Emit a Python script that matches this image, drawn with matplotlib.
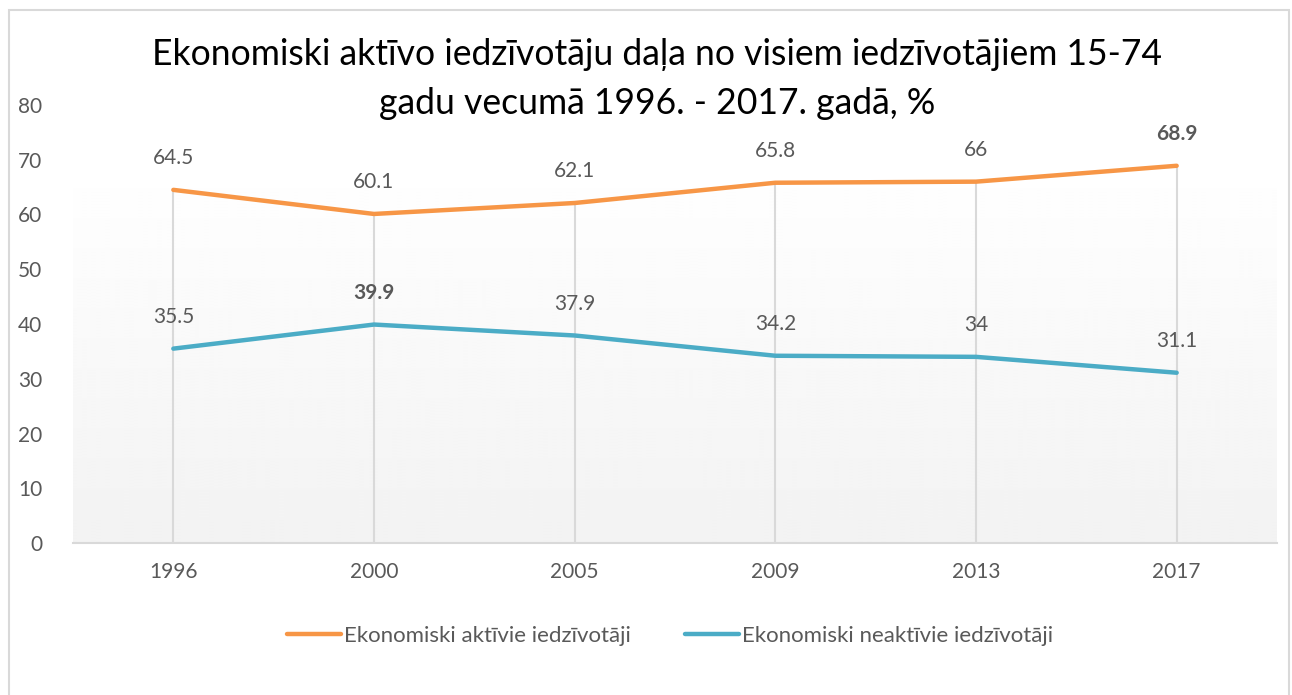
import matplotlib.pyplot as plt
import numpy as np
from matplotlib.patches import Rectangle

plt.rcParams['font.family'] = ['Lato', 'DejaVu Sans']

years = ['1996', '2000', '2005', '2009', '2013', '2017']
active = [64.5, 60.1, 62.1, 65.8, 66, 68.9]
inactive = [35.5, 39.9, 37.9, 34.2, 34, 31.1]
name_active = 'Ekonomiski aktīvie iedzīvotāji'
name_inactive = 'Ekonomiski neaktīvie iedzīvotāji'
title = 'Ekonomiski aktīvo iedzīvotāju daļa no visiem iedzīvotājiem 15-74\ngadu vecumā 1996. - 2017. gadā, %'

orange = '#F79646'
blue = '#4BACC6'
grey_txt = '#595959'
grid = '#d9d9d9'

fig = plt.figure(figsize=(12.92, 6.95), dpi=100)
ax = fig.add_axes([73 / 1292, 1 - 543 / 695, (1277 - 73) / 1292, (543 - 105) / 695])

# outer chart border
fig.patches.append(Rectangle((9 / 1292, -0.1), 1280 / 1292, 1.1 - 10 / 695,
                             transform=fig.transFigure, fill=False,
                             edgecolor=grid, lw=1.5))

x = np.arange(len(years))

# gradient plot background
grad = np.linspace(0.95, 1.0, 256).reshape(-1, 1)
ax.imshow(grad, extent=[-0.5, 5.5, 0, 70], origin='lower', cmap='gray',
          vmin=0, vmax=1, aspect='auto', zorder=0)

ax.vlines(x, 0, active, colors=grid, lw=1.5, zorder=1)
ax.plot(x, active, color=orange, lw=3.2, solid_capstyle='round', label=name_active, zorder=3)
ax.plot(x, inactive, color=blue, lw=3.2, solid_capstyle='round', label=name_inactive, zorder=3)

for series in (active, inactive):
    top = max(series)
    for xi, v in zip(x, series):
        ax.annotate(f'{v:g}', (xi, v), xytext=(0, 23), textcoords='offset points',
                    ha='center', va='center', fontsize=15, color=grey_txt,
                    fontweight='bold' if v == top else 'normal')

ax.set_xlim(-0.5, 5.5)
ax.set_ylim(0, 80)
ax.set_yticks(range(0, 81, 10))
ax.set_xticks(x)
ax.set_xticklabels(years)
ax.tick_params(length=0, labelsize=15, labelcolor=grey_txt)
ax.tick_params(axis='x', pad=14)
ax.tick_params(axis='y', pad=22)
for s in ['top', 'right', 'left']:
    ax.spines[s].set_visible(False)
ax.spines['bottom'].set_color(grid)
ax.spines['bottom'].set_linewidth(1.5)
ax.set_facecolor('white')

fig.text(657 / 1292, 1 - 79 / 695, title, ha='center', va='center', fontsize=25.6,
         color='black', linespacing=1.6)

fig.legend(loc='center', bbox_to_anchor=(670 / 1292, 1 - 636 / 695), ncol=2,
           frameon=False, fontsize=16, labelcolor=grey_txt, handlelength=2.45,
           handletextpad=0.15, columnspacing=2.4)

fig.savefig('out.png', dpi=100)
